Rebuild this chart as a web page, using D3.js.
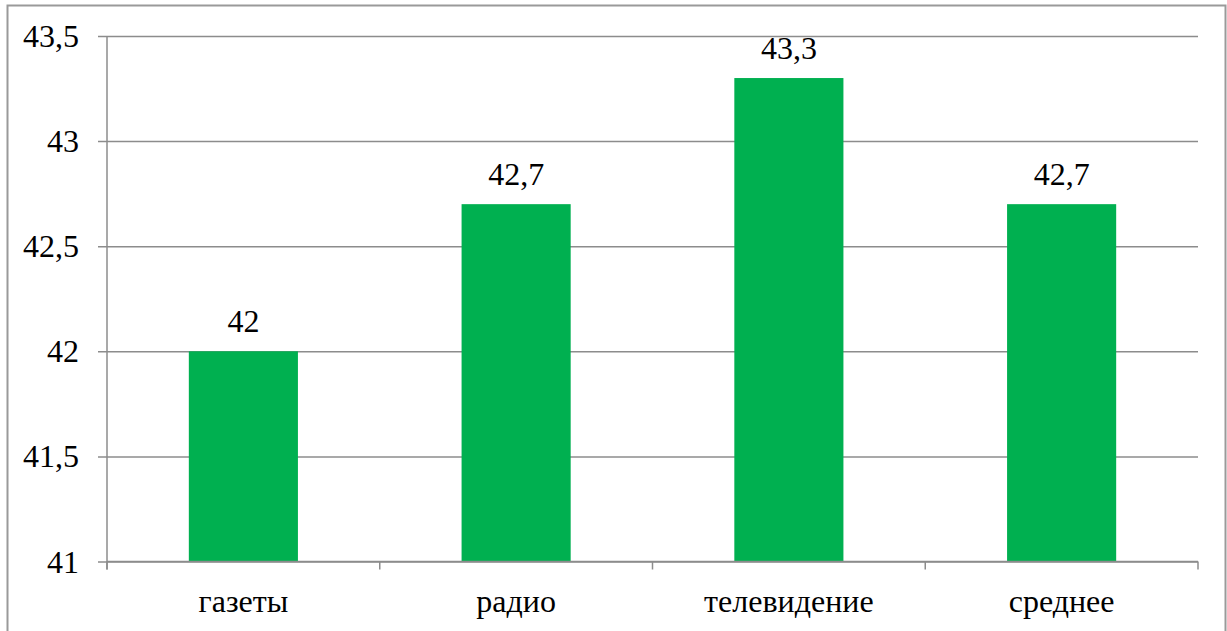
<!DOCTYPE html>
<html>
<head>
<meta charset="utf-8">
<script src="https://cdn.jsdelivr.net/npm/d3@7"></script>
</head>
<body style="margin:0">
<svg id="chart" width="1227" height="631" font-family="Liberation Serif, Times New Roman, serif"></svg>
<script>
// Data
const categories = ["газеты", "радио", "телевидение", "среднее"];
const values = [42, 42.7, 43.3, 42.7];
const yTicks = [41, 41.5, 42, 42.5, 43, 43.5];

const W = 1227, H = 631;
const margin = { left: 107, right: 29, top: 36, bottom: 69 };
const FONT = "Liberation Serif";
const FONT_SIZE = 32;
const fmt = v => String(v).replace(".", ",");

const svg = d3.select("#chart");

// Outer frame
svg.append("rect")
  .attr("x", 7.5).attr("y", 5.5)
  .attr("width", 1218).attr("height", 640)
  .attr("fill", "none")
  .attr("stroke", "#9a9a9a")
  .attr("stroke-width", 2);

const x = d3.scaleBand()
  .domain(categories)
  .range([margin.left, W - margin.right])
  .paddingInner(0.6)
  .paddingOuter(0.3);

const xEdges = d3.scaleLinear()
  .domain([0, categories.length])
  .range([margin.left, W - margin.right]);

const y = d3.scaleLinear()
  .domain([41, 43.5])
  .range([H - margin.bottom - 0.5, margin.top]);

const gridColor = "#8c8c8c";

// Horizontal gridlines (short stubs left of the axis act as ticks)
const yAxis = d3.axisLeft(y)
  .tickValues(yTicks)
  .tickSize(-(W - margin.right - margin.left))
  .tickSizeOuter(0)
  .tickFormat(() => "");

const gy = svg.append("g")
  .attr("transform", `translate(${margin.left},0)`)
  .call(yAxis);
gy.attr("font-family", null).attr("font-size", null);
gy.select(".domain").remove();
gy.selectAll(".tick text").remove();
gy.selectAll(".tick line")
  .attr("x1", -9)
  .attr("stroke", gridColor)
  .attr("stroke-width", 1.5);

// Value-axis labels
svg.append("g").selectAll("text")
  .data(yTicks)
  .join("text")
  .attr("class", "lbl")
  .attr("x", margin.left - 28)
  .attr("y", d => y(d) + 11)
  .attr("text-anchor", "end")
  .attr("font-family", FONT)
  .attr("font-size", FONT_SIZE)
  .attr("fill", "#000")
  .text(fmt);

// Vertical axis line
svg.append("line")
  .attr("x1", margin.left).attr("x2", margin.left)
  .attr("y1", y(43.5)).attr("y2", y(41) + 8)
  .attr("stroke", gridColor)
  .attr("stroke-width", 1.5);

// Bars
svg.append("g").selectAll("rect")
  .data(values)
  .join("rect")
  .attr("x", (d, i) => x(categories[i]))
  .attr("width", x.bandwidth())
  .attr("y", d => y(d))
  .attr("height", d => y(41) - y(d))
  .attr("fill", "#00b050");

// Category axis (ticks at the band boundaries)
svg.append("line")
  .attr("x1", margin.left).attr("x2", W - margin.right)
  .attr("y1", y(41)).attr("y2", y(41))
  .attr("stroke", gridColor).attr("stroke-width", 1.5);
svg.append("g").selectAll("line")
  .data(d3.range(categories.length + 1))
  .join("line")
  .attr("x1", i => xEdges(i)).attr("x2", i => xEdges(i))
  .attr("y1", y(41)).attr("y2", y(41) + 8)
  .attr("stroke", gridColor).attr("stroke-width", 1.5);
svg.append("g").selectAll("text")
  .data(categories)
  .join("text")
  .attr("class", "lbl")
  .attr("x", d => x(d) + x.bandwidth() / 2)
  .attr("y", 612)
  .attr("text-anchor", "middle")
  .attr("font-family", FONT)
  .attr("font-size", FONT_SIZE)
  .attr("fill", "#000")
  .text(d => d);

// Value labels above the bars
svg.append("g").selectAll("text")
  .data(values)
  .join("text")
  .attr("class", "lbl")
  .attr("x", (d, i) => x(categories[i]) + x.bandwidth() / 2)
  .attr("y", d => y(d) - 19)
  .attr("text-anchor", "middle")
  .attr("font-family", FONT)
  .attr("font-size", FONT_SIZE)
  .attr("fill", "#000")
  .text(d => fmt(d));

// Make sure the serif face is loaded, then re-apply it to the labels
if (document.fonts && document.fonts.load) {
  document.fonts.load(`${FONT_SIZE}px "${FONT}"`, "газеты 43,5").then(() => {
    svg.selectAll("text.lbl")
      .attr("font-family", `${FONT}, serif`)
      .style("font-family", `"${FONT}", serif`);
  });
}
</script>
</body>
</html>
